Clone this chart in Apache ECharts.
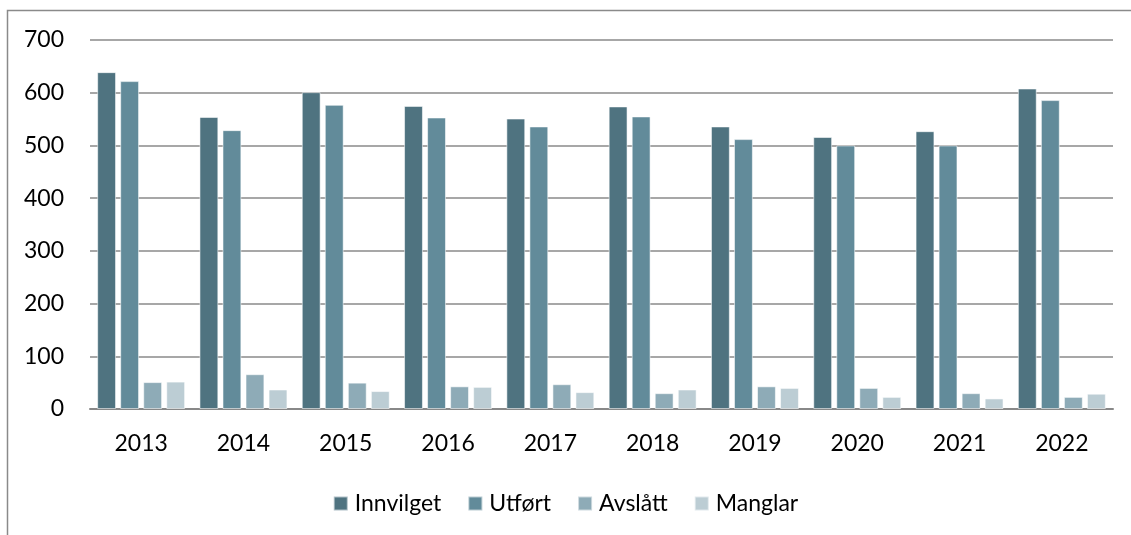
<!DOCTYPE html>
<html>
<head>
<meta charset="utf-8">
<script src="https://cdn.jsdelivr.net/npm/echarts@6/dist/echarts.min.js"></script>
<style>
  html, body { margin: 0; padding: 0; background: #fff; }
  #chart { width: 1131px; height: 535px; }
</style>
</head>
<body>
<div id="chart"></div>
<script>
// data
var years = ['2013', '2014', '2015', '2016', '2017', '2018', '2019', '2020', '2021', '2022'];
var innvilget = [639, 554, 601, 575, 551, 574, 536, 516, 527, 608];
var utfort = [622, 529, 577, 553, 536, 555, 512, 500, 500, 586];
var avslatt = [51, 66, 50, 43, 47, 30, 43, 40, 30, 23];
var manglar = [52, 37, 34, 42, 32, 37, 40, 23, 20, 29];
var yTicks = [0, 100, 200, 300, 400, 500, 600, 700];

var font = 'Lato, "Open Sans", sans-serif';

function barSeries(name, data, color) {
  return {
    name: name,
    type: 'bar',
    data: data,
    barGap: '22%',
    barCategoryGap: '14%',
    itemStyle: {
      color: color,
      borderColor: 'rgba(255,255,255,0.55)',
      borderWidth: 1
    }
  };
}

var chart = echarts.init(document.getElementById('chart'));
chart.setOption({
  animation: false,
  textStyle: { fontFamily: font },
  graphic: [{
    // outer frame (top and left edges visible)
    type: 'rect',
    shape: { x: 7.5, y: 10.5, width: 1200, height: 600 },
    style: { fill: 'none', stroke: '#8a8a8a', lineWidth: 1.5 },
    silent: true
  }],
  grid: { left: 90, right: 18, top: 40, bottom: 126 },
  legend: {
    left: 'center',
    top: 487,
    itemWidth: 14,
    itemHeight: 14,
    itemGap: 26,
    icon: 'rect',
    textStyle: { fontFamily: font, fontSize: 23, color: '#000', padding: [0, 0, 0, 2] },
    data: ['Innvilget', 'Utført', 'Avslått', 'Manglar']
  },
  xAxis: {
    type: 'category',
    data: years,
    axisLine: { lineStyle: { color: '#888', width: 2 } },
    axisTick: { show: false },
    axisLabel: { fontSize: 23, color: '#000', margin: 23 }
  },
  yAxis: {
    type: 'value',
    min: yTicks[0],
    max: yTicks[yTicks.length - 1],
    interval: 100,
    axisLine: { show: false },
    axisTick: { show: false },
    axisLabel: { fontSize: 23, color: '#000', margin: 26 },
    splitLine: { lineStyle: { color: '#8a8a8a', width: 1.5 } }
  },
  series: [
    barSeries('Innvilget', innvilget, '#4f7380'),
    barSeries('Utført', utfort, '#628b9a'),
    barSeries('Avslått', avslatt, '#8eabb7'),
    barSeries('Manglar', manglar, '#bccdd4')
  ]
});
</script>
</body>
</html>
